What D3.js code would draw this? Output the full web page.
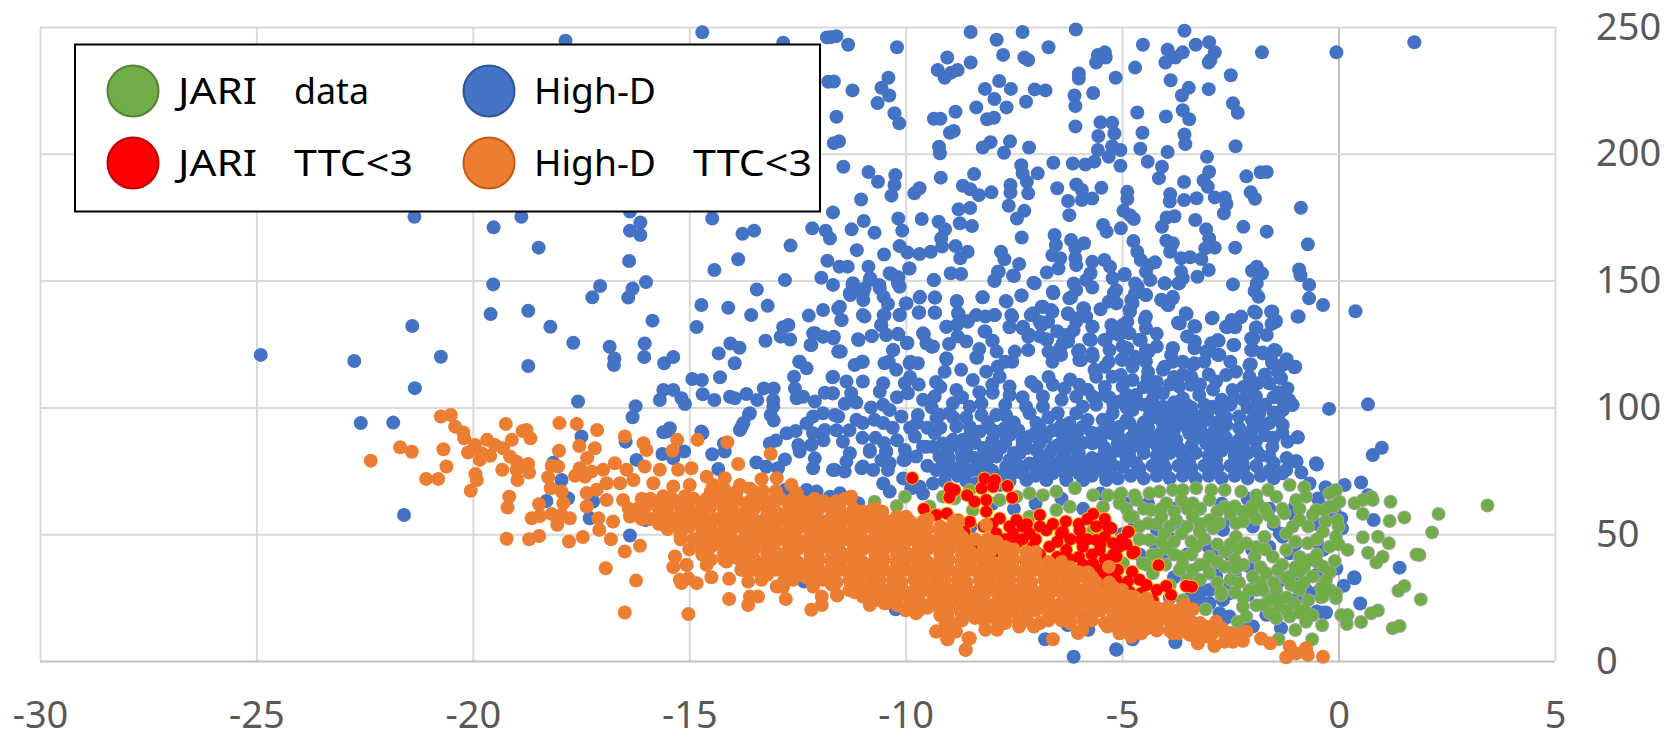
<!DOCTYPE html>
<html>
<head>
<meta charset="utf-8">
<script src="https://cdn.jsdelivr.net/npm/d3@7"></script>
<style>
  body { margin: 0; background: #fff; }
  text { font-family: "Noto Sans", sans-serif; }
</style>
</head>
<body>
<svg class="svgScatter"></svg>
<script>
// Tick labels of both axes.
var xTicks = [-30, -25, -20, -15, -10, -5, 0, 5];
var yTicks = [0, 50, 100, 150, 200, 250];

// Legend labels, in reading order. Each one is a name and an optional second word.
var legendNames = ["JARI", "High-D", "JARI", "High-D"];
var legendSuffix = ["data", "", "TTC<3", "TTC<3"];

// High-D points. Upper part of the cloud.
var highDTop = [
[-8.5,248],[-7.9,245],[-7.3,248],[-6.07,249],[-3.56,248.5],[1.75,244],[-0.05,240],[-1.77,240],[-2.99,244],[-3.3,243],[-2.86,240],[-3.6,240],[-3.95,241],[-3.77,238],[-4,236],[-3,236],[-2.96,237],[-4.52,243],[-5.4,240],[-5.56,239],[-5.38,238],[-5.6,236],[-4.7,234],[-5.15,230],[-2.49,231],[-3.88,229],[-3.46,226],[-3,225.5],[-3.62,223],[-6,231.7],[-6,229.7],[-6.7,242],[-7.75,239],[-7.26,238],[-7.17,237],[-9.04,238],[-8.5,236],[-8.8,233],[-8.95,232],[-9.1,230],[-9.26,233],[-10.2,242],[-11.33,243],[-11.6,246.4],[-11.73,246],
[-10.4,230],[-10.56,226],[-10.38,223],[-10.65,220],[-11.23,225],[-11.66,228.5],[-11.6,214.6],[-10.26,216],[-10.15,212],[-9.35,213.8],[-9.2,213.8],[-8.85,216.6],[-8.37,218.3],[-8.17,225.6],[-7.84,228.7],[-7.57,225.6],[-7.95,221.6],[-7.67,218.3],[-7.22,220.5],[-7.02,225.4],[-6.77,225],[-6.1,223],[-6.08,218.8],[-5.67,224],[-8.12,213.6],[-7.96,214.2],[-6.08,210.8],[-5.5,212.4],[-5.23,212.2],[-5.55,207],[-5.18,208],[-4.65,216.3],[-3.99,214.7],[-3.6,217.2],[-3.45,213.6],[-2.44,219.9],[-2.33,216.2],[-4.53,208.3],[-3.56,207.6],[-3.54,203.8],[-2.38,203],
[-8.89,209],[-8.98,208.3],[-11.54,204.9],[-11.66,204.2],[-9.23,202.8],[-9.21,200.2],[-8.22,202.5],[-8.04,204.6],[-7.59,204.9],[-7.73,200.4],[-7.15,202.5],[-5.56,201.5],[-5.23,203],[-5.04,201.5],[-5.31,198.8],[-4.58,202],[-3.95,200.7],[-3.04,198.8],[-4.41,196.9],[-4.08,194.9],[-4.15,190.4],[-2.99,192.9],[-1.8,192.7],[-1.66,192.8],[-2.13,191.1],[-3.12,189.5],[-3.02,187],[-3.57,188.9],[-2.03,184.8],[-1.93,182.3],[-2.86,182.8],[-2.63,182.8],[-2.59,180.2],[-3.28,182.5],[-3.57,181.8],[-3.89,184.1],[-3.9,181.2],[-2.65,176.5],[-0.87,178.7],[-3.79,175.4],[-3.97,174.9],[-3.31,173.9],[-4.08,171.2],[-2.2,171.2],[-1.66,169.3],[-3.06,170.2],[-2.99,166.6],[-0.71,164.3],[-2.39,163],[-2.86,163],[-3.08,162.7],[-3.98,165.7],[-3.83,164.7],[-3.89,161.4],[-3.43,159.2],[-3.17,158.5],[-3.64,158.8],[-3,154.2],[-2,153.9],[-1.89,155.5],[-1.77,152.8],[-0.91,154.4],[-0.88,152.1],[-0.68,148.3],[-2.44,148.5],[-3.26,151.5],[-1.89,148.9],[-1.94,145.9],[-1.85,143.6],[-0.68,143],[-0.36,140.4],[0.39,137.9],[-1.91,137.3],[-1.56,137.7],[-1.45,134.2],[-0.92,135.8],[-1.55,132.9],[-2.26,135.5],[-2.47,134.5],[-2.57,131.6],[-2.39,131.6],[-2.91,135.4],[-3.51,136.8],[-3.67,133.1],[-3.31,131.8],[-1.9,131.6],[-1.66,128.5],[-1.97,127.2],[-3.32,125.9],[-2.77,126.3],[-2.94,125.3],[-2.41,124.6],[-3.83,123.3],[-3.33,123.3],[-3.02,122],[-2.75,120.7],[-1.97,122.6],[-1.75,121.6],[-1.45,122.4],[-1.54,118],[-1.29,116.7],[-1,116],[-2.03,117],
[-11.44,194.9],[-10.86,192.8],[-10.24,191.6],[-10.26,187.7],[-10.33,183.5],[-10.64,189],[-11.03,182],[-9.8,184.4],[-9.68,186.4],[-9.19,190.6],[-8.42,192],[-8.68,187.4],[-8.51,186],[-8.31,183.7],[-8.02,184.8],[-7.58,187.7],[-7.58,184.7],[-7.33,195.5],[-7.3,192.3],[-7.2,189],[-6.95,192.3],[-7.17,184.4],[-6.59,196.5],[-6.14,196.2],[-5.85,195.8],[-5.64,196.9],[-5.04,195.3],[-6.5,186.4],[-6.06,187.9],[-5.93,185.7],[-5.48,186.6],[-6.25,181.4],[-5.93,181.8],[-5.69,182.4],[-4.88,185],[-4.88,182.2],[-7.62,179.5],[-8.78,178.1],[-8.51,178.6],[-7.26,177.5],[-7.43,174.5],[-6.22,175.8],[-4.97,177.5],[-4.82,175.8],[-4.73,174.3],[-5.03,170.6],[-5.44,171.9],[-5.36,169.3],[-10.17,174.5],[-9.63,174.3],[-9.24,173.2],[-10.97,173.5],[-11.68,176.9],[-8.75,172.6],[-8.47,171.5],[-10.08,169.7],[-11.25,170.2],[-10.72,168.9],[-9.09,170.2],[-9.18,166.6],[-9.16,163.4],[-7.32,167],[-6.56,168],[-6.53,164],[-6.18,166],[-6.08,162.7],[-5.88,164.7],[-4.74,165.6],[-4.65,161.4],[-8.85,163.6],[-8.57,161.4],[-8.74,158.8],[-10.14,163.6],[-9.96,161.1],[-9.68,160.5],[-9.42,161.4],[-11.13,162],[-10.5,160.3],[-7.8,161.4],[-7.72,158.4],[-7.38,156.5],[-6.61,160],[-6.43,158.8],[-6.47,154.8],[-6.74,153.2],[-6.08,158.8],[-6.06,156.1],[-5.69,157.4],[-5.41,158.1],[-5.28,155.5],[-4.57,158.1],[-4.39,156.1],[-4.24,157.2],[-4.45,153.5],[-4.35,150.2],[-11.53,155.5],[-11.34,155.5],[-10.86,155.5],[-9.92,154.8],[-10.33,152.6],[-10.17,151.3],[-8.96,152.9],[-8.72,152.6],[-9.35,150.2],[-7.85,153.5],[-7.95,149.8],[-7.5,151.8],[-7.02,148.9],[-5.73,152.9],[-5.83,150.2],[-6.12,148.9],[-5.69,147.3],[-5.22,150.9],[-4.94,152.6],[-4.7,148.9],[-3.64,153.5],[-3.7,148.9],[-4.01,148.9],
[-10.82,150.9],[-10.61,148.3],[-11.23,148.3],[-11.68,148.3],[-11.28,144.3],[-10.95,146.9],[-10.51,143.6],[-10.14,147.6],[-10.98,142.3],[-10.95,135.8],[-10.41,140.8],[-9.98,141],[-9.67,143.6],[-9.32,143.3],[-8.82,141.7],[-8.22,143.4],[-7.67,141.7],[-7.32,144.1],[-6.59,145],[-6.18,143.3],[-6.06,146.3],[-5.19,145],[-5.31,141.7],[-4.7,145],[-4.45,144.3],[-3.83,143.6],[-4.08,142.3],[-3.93,140.4],[-4.76,141],[-4.82,137.7],[-5.5,138.7],[-5.13,141],[-5.88,139],[-5.83,135.8],[-6.25,136.8],[-6.86,139.7],[-6.61,137.7],[-7.11,136.4],[-6.86,132.5],[-7.54,135.8],[-7.6,131.6],[-8.16,135.8],[-7.94,136.4],[-8.78,136.8],[-8.57,133.8],[-8.82,132.5],[-9.06,131.8],[-9.32,137.3],[-9.7,137.3],[-10.14,136.4],[-11.56,139],[-11.48,134.4],[-10.51,136.4],[-10.57,132.5],[-11.66,127.9],[-11.09,126.6],[-10.78,128.1],[-10.45,128.5],[-10.17,128.8],[-9.96,125.5],[-9.58,128.8],[-9.52,125.2],[-9.4,123.9],[-8.16,129.9],[-8,126.3],[-7.3,131.2],[-7.17,127.9],[-6.73,126.8],[-6.06,133.8],[-5.69,131.8],[-5.25,132.5],[-4.88,133.8],[-4.45,135.8],[-4.45,131.2],[-6.3,128.5],[-6.12,130.5],[-5.72,126.6],[-5.38,126.6],[-5.07,128.5],[-4.57,126.6],[-6.43,123.3],[-5.99,122.6],[-5.69,121.3],[-4.88,123.3],[-4.39,122],[-11.5,122],[-10.29,122.6],[-7.48,122],[-7.17,122.6],[-8.35,119.6],[-9.06,119],[-11.01,118],[-10.39,118],[-9.89,118],[-7.54,118],[-6.61,118],[-5.99,118.7],[-5.31,118],[-5,119],[-4.45,118],[-3.83,118],[-3.33,117.4]
];

// High-D points, left side of the cloud.
var highDLeft = [
[-17.86,244.6],[-14.7,247.9],[-12.83,243.8],[-11.82,245.9],[-11.79,228.4],[-21.35,175.2],[-18.88,175.2],[-19.52,171],[-18.48,163],[-16.37,177.2],[-16.13,172.9],[-16.37,169.7],[-16.13,168],[-14.47,174.5],[-13.77,168.5],[-13.5,169.7],[-12.16,170.6],[-11.85,169.7],[-11.75,166.6],[-12.66,163.8],[-16.39,157.7],[-13.87,158.4],[-14.42,154.2],[-11.81,157.8],[-19.53,148.5],[-16,149.4],[-17.06,147.9],[-16.31,146.9],[-16.41,143.3],[-17.24,143.4],[-12.79,150.2],[-11.95,151.1],[-13.44,146.5],[-14.72,140.4],[-14.1,139.3],[-13.19,140.1],[-13.57,136.4],[-12.24,136.2],[-11.91,138.4],[-19.59,136.8],[-18.72,138.1],[-18.21,131.8],[-21.4,132.1],[-15.85,134.2],[-14.83,131.7],[-12.71,132.5],[-12.83,131.6],[-17.68,125.5],[-16.84,123.9],[-16.03,125.2],[-14.05,125.2],[-13.84,123.5],[-13.24,126.3],[-12.89,127.9],[-12.67,126.8],[-12.09,129.2],[-11.91,127.9],[-12.18,124.6],[-24.9,120.7],[-22.74,118.3],[-20.74,120],[-16.73,119.3],[-16.04,119.9],[-15.37,119.9],[-15.58,117.4],[-14.32,121.3],[-13.95,117.4],[-18.72,116.3],[-12.46,118],[-16.74,116.7],
[-17.57,102.3],[-16.24,100.5],[-16.31,96.1],[-14.93,111.2],[-14.71,110.8],[-14.29,111.9],[-15.6,106.9],[-15.37,106.9],[-15.68,102.9],[-15.18,103.6],[-15.1,101.3],[-14.69,105.2],[-14.42,102.9],[-14.06,104.2],[-13.95,103.6],[-13.68,105.3],[-13.43,102.9],[-13.28,107.5],[-13.05,107.5],[-13.06,102.9],[-13.06,100.3],[-13.12,97],[-13.05,94.8],[-13.62,97.4],[-13.79,92.4],[-12.58,112.1],[-12.56,107.5],[-12.52,103.6],[-12.37,104.2],[-12.45,118],[-12.29,115.4],[-12.1,102.3],[-11.87,105.8],[-11.69,105.5],[-11.69,111.9],[-12.14,129.2],[-11.91,127.9],[-11.67,127.2],[-12.2,124.6],[-11.56,122],
[-15.45,91.8],[-15.6,90.2],[-14.7,89.8],[-17.49,88.5],[-16.47,86.5],[-15.62,81.6],[-15.37,79.9],[-15.12,82.6],[-14.47,81.5],[-14.18,82.6],[-14.2,85.8],[-16.22,79.3],[-17.95,71.4],[-14.33,75.7],[-13.45,78.3],[-13.22,76.6],[-12.95,76],[-12.79,79.5],[-11.68,75.3],[-12.14,76],[-12.1,79.9],[-12.48,85.2],[-12.45,82.6],[-12.18,85.2],[-13.14,85.8],[-13,86.9],[-12.75,89.8],[-12.54,90.7],[-12.29,93.7],[-12.14,96.4],[-11.91,97.7],[-11.64,97],[-11.87,91.1],[-12.14,89.8],[-12.29,67.4],[-12.06,66.8],[-11.75,64.8],[-12.79,67.4],
[-22.59,93.8],[-21.84,94],[-21.59,57.6],[-21.34,107.6],[-15.52,90.5],[-14.72,90.5],[-18.14,78.2],[-18.3,63.1],[-17.8,64.2],[-17.22,62.9],[-17.3,56.3],[-16.01,55.6],[-16.37,49.5],[-12.35,31.3],[-13.83,91.1],[-13.6,97.7],[-13.75,93.8],[-12.47,84.6]
];

// High-D points, middle of the cloud.
var highDMiddle = [
[-4.95,152.2],[-5.14,146.3],[-4.64,147.6],[-4.79,142.4],[-4.45,144.3],[-4.1,142.4],[-3.83,143],[-3.95,140.4],[-3.6,150.9],[-3.68,149],[-4.02,149],[-4.48,134.5],[-4.83,138.4],[-4.99,132.5],[-4.83,129.2],[-5.22,129.2],[-5.41,126.6],[-4.6,126.6],[-4.99,124],[-5.29,122.6],[-5,118.7],[-4.45,122.6],[-4.49,118.7],[-4.76,116],[-3.83,123.3],[-3.87,120.7],[-3.6,118],[-3.37,116.7],[-4.02,116],[-3.33,126],[-3.71,133.4],[-3.33,132.1],[-3.53,137.1],[-2.93,135.1],[-2.6,131.8],[-2.41,133.8],[-2.25,135.8],[-3.06,122],[-2.79,120.7],[-2.79,126.6],[-2.43,124.6],[-1.95,137.8],[-1.53,137.8],[-1.45,133.8],[-1.91,131.2],[-2.02,127.2],[-2.02,122.6],[-1.75,121.3],[-1.49,122.6],[-1.53,117.4],[-1.02,115.8],[-0.95,135.8],
[-6.22,143],[-5.9,139.1],[-6.25,137.1],[-6.06,135.1],[-5.68,131.8],[-5.76,126.9],[-6.76,126.9],[-6.22,128.6],[-6.37,125.3],[-6.25,126],[-6.41,120.7],[-6.02,122],[-5.95,118.7],[-5.68,120],[-5.64,114.8],[-7.06,137.1],[-6.83,139.7],[-6.64,138.4],[-6.91,133.8],[-6.71,133.8],[-7.29,131.8],[-7.14,128.6],[-7.6,131.8],[-7.56,136.4],[-8.18,129.9],[-7.99,126.3],[-8.37,136.4],[-7.95,136.4],[-7.33,144.1],[-7.69,142],[-8.23,143.4],[-6.6,145.6],[-7.05,149.2],[-7.95,150.2],[-7.87,153.5],[-7.52,152],[-9.06,131.8],[-8.79,137.1],[-8.56,134.1],[-9.33,143.3],[-9.33,137.4],[-9.68,143.3],[-9.69,137.5],[-10,141],[-9.35,150.2],[-8.82,142],[-9.6,129.2],[-9.37,124],[-9.97,125.3],[-10.18,129],[-10.79,128.2],[-11.1,126.9],[-11.52,122],[-11.68,127.6],[-10.29,122.6],[-10.49,117.4],[-10.22,114.8],[-9.91,117.4],[-9.72,117.4],[-11.18,116.7],[-10.99,118],[-8.37,119.7],[-9.06,119.4],[-9.1,114.1],[-8.72,114.8],[-10.6,147],[-10.83,150.2],[-10.99,145],[-10.99,136.4],[-11.49,134.5],[-10.49,136.4],[-10.56,132.5],[-10.14,136.4],[-10.45,128.6],[-11.52,139.7],[-11.29,145],[-11.22,149],[-10.18,149],[-10.37,152.9],[-9.91,154.8],
[-11.68,112.1],[-11.37,110.2],[-10.99,110.2],[-10.52,109.5],[-10.02,109.5],[-11.68,105.6],[-11.26,105.6],[-10.6,106.2],[-9.95,105.6],[-9.33,104.3],[-11.41,101.4],[-11.14,101.9],[-10.52,101],[-10.37,99],[-10.1,96.4],[-11.56,96.4],[-11.14,95.1],[-10.99,93.8],[-10.72,95.1],[-10.52,93.8],[-9.72,97],[-9.74,93.8],[-9.29,95.7],[-9.22,97],[-8.91,101.6],[-8.99,97.7],[-8.52,100.3],[-8.25,101.6],[-8.25,97],[-8.83,106.9],[-8.45,110.8],[-8.14,114.1],[-7.87,116.1],[-7.83,112.1],[-7.6,108.2],[-7.99,105.8],[-7.6,104.9],[-7.22,100.3],[-6.98,108.2],[-6.83,104.3],[-6.6,108.9],[-6.33,107.5],[-6.83,100.3],[-7.14,97.7],[-7.91,97],[-7.68,96.8],[-6.49,97.7],[-6.06,104.3],[-5.99,108.9],[-5.68,104.3],[-5.91,100.3],[-5.6,101],[-6.06,97.7],[-5.6,112.1],[-5.22,112.1],[-5.03,112.8],[-4.76,110.8],[-4.41,111.5],[-4.06,114.8],[-3.68,108.2],[-3.41,108.9],[-4.99,108.2],[-4.68,104.9],[-5.06,102.3],[-4.06,105.6],[-3.6,103.6],[-3.22,104.9],[-2.91,100.3],[-2.83,110.2],[-2.6,112.8],[-2.37,114.1],[-2.45,106.9],[-2.41,103.6],[-2.06,116.7],[-2.06,112.1],[-1.87,109.5],[-1.6,109.5],[-1.91,104.3],[-1.33,111.5],[-1.18,107.5],[-1.14,102.9],[-1.06,101],[-1.29,99],[-0.22,99.4],
[-4.76,99],[-4.83,93.8],[-5.06,92.4],[-5.22,97.7],[-5.45,95.1],[-5.25,89.8],[-4.37,96.4],[-4.06,100.3],[-3.75,99],[-3.45,97.7],[-4.06,93.8],[-3.68,93.8],[-3.22,96.4],[-2.83,93.8],[-2.3,96.4],[-1.83,97.7],[-1.6,93.8],[-1.29,93.1],[-0.95,88.2],[-1.18,86.5],[-1.53,84.5],[-1.91,86.5],[-2.3,87.2],[-2.68,90.5],[-3.06,85.8],[-3.45,89.8],[-3.75,87.2],[-4.14,84.5],[-4.56,88.5],[-4.95,85.8],[-4.83,80.6],[-5.45,80.6],[-5.25,81.9],[-5.68,85.8],[-5.91,92.4],[-6.22,93.8],[-6.52,91.1],[-6.98,93.8],[-7.14,88.5],[-6.76,88.5],[-6.37,87.2],[-7.83,90.5],[-7.6,89.1],[-7.91,84.5],[-8.14,81.9],[-6.98,83.2],[-6.68,81.9],[-6.37,80.6],[-7.37,81.9],[-8.52,92.4],[-8.83,92.4],[-8.68,87.2],[-8.29,90.5],[-8.91,87.2],[-8.6,83.2],[-9.33,89.8],[-9.79,88.5],[-9.37,84.5],[-9.6,84.5],[-10.02,83.2],[-9.76,80.6],[-10.02,79.3],[-10.83,83.2],[-10.45,82.6],[-11.29,81.9],[-11.45,86.5],[-10.37,78],[-10.99,76.7],[-9.14,78],[-8.68,78],[-8.14,78],[-7.6,79.3],[-6.98,78],[-6.37,76.7],[-5.83,78],[-5.29,79.3],[-4.68,78],[-4.06,78],[-3.45,78],[-2.83,79.3],[-2.22,78],[-1.6,80.6],[-0.98,78.6],[-0.52,78],
[-11.37,78.6],[-11.64,75.3],[-11.41,74.7],[-11.02,76],[-10.83,82.5],[-10.45,82.5],[-10.56,79.2],[-10.75,75.3],[-10.41,75.3],[-10.52,70],[-10.37,66.8],[-10.05,79.2],[-10.06,72],[-9.68,68.7],[-9.87,68.1],[-11.52,66.1],[-11.1,62.2],[-9.29,75.3],[-9.06,74.7],[-9.37,70],[-9.22,80.6],[-9.52,84.5],[-9.14,85.8],[-8.68,79.2],[-8.45,75.3],[-8.21,77.9],[-7.91,80.6],[-7.68,76.6],[-7.44,74.6],[-7.14,77.9],[-6.83,75.3],[-6.52,77.9],[-6.21,76.6],[-5.91,75.3],[-5.6,76.6],[-5.29,75.3],[-4.98,76.6],[-8.37,70],[-7.83,69.4],[-7.21,71.4],[-6.75,71.4],[-6.29,71.4],[-5.9,71.4],[-5.37,71.4]
];

// High-D points, low and right side, most of them behind the JARI cloud.
var highDRight = [
[-0.94,88.2],[-0.98,78.9],[-0.5,77.5],[-1.21,75.3],[-0.86,74.3],[-1.29,99.2],[-1.09,100.9],[0.68,101.2],[1,84.1],[0.79,81.2],[0.52,70.4],[0.14,69.4],[-0.3,68.5],[0.81,55.6],[0.68,65.4],[0.06,56.3],[0.08,52.3],[1.41,36.8],[0.37,32.6],[0.12,29.7],[-0.05,36.5],[-0.67,70],[-0.48,64.1],[0.5,22.7],[-0.29,19.1],[-0.5,19.5],[-0.71,25.4],[-1.33,12.9],[-1.67,18.2],[-3.77,7.4],[-5.14,4.6],[-4.75,9],[-4.14,16.2],[-2.67,24],[-2.98,22.8],[-2.52,17.5],[-2.67,16.2],[-3.21,24],[-2.98,28],[-3.37,22.8],[-2.75,18.8],[-3.13,28],[-2.83,33.3],[-3.29,30],[-2.52,26.7],[-2.21,14.9],[-1.98,13.6],[-1.36,50.3],[-1.29,49],[-1.98,53],[-2.67,51.7],[-4.25,46.4],[-3.94,49],[-2.83,41.1],[-2.06,37.2],[-0.75,28],[-0.36,43.8],[-1.13,42.5],
[-11.68,32.6],[-10.68,25.4],[-10.22,20.8],[-6.12,1.7],[-5.13,4.4],[-6.78,8.6],[-4.76,8.6],[-6.26,14.2],[-5.78,12.3],[-10.23,20.4],[0.36,33],[-0.36,19.1],[-0.51,77.6],[-0.97,78.6]
];

// The thick part of the High-D cloud, too dense to read single points.
var highDDense = [
[-9.1,71],[-8.8,73],[-8.6,71],[-8.2,73],[-7.9,73],[-7.6,71],[-7.3,74],[-7,73],[-6.6,74],[-6.3,73],[-6,74],[-5.7,73],[-5.4,74],[-5.1,72],[-4.8,73],[-4.5,72],[-4.2,73],[-3.9,72],[-3.6,73],[-3.3,72],[-3,73],[-2.7,72],[-2.4,73],[-2.1,72],[-1.8,73],[-1.5,72],
[-9,80],[-8.7,82],[-8.4,80],[-8.1,82],[-7.8,84],[-7.5,82],[-7.2,84],[-6.9,80],[-6.6,84],[-6.3,83],[-6,82],[-5.7,80],[-5.4,84],[-5.1,83],[-4.8,84],[-4.5,82],[-4.2,81],[-3.9,82],[-3.6,81],[-3.3,82],[-3,81],[-2.7,83],[-2.4,81],[-2.1,82],[-1.8,81],[-1.5,78],[-1.2,80],
[-4.6,85],[-4.3,88],[-4,88],[-3.7,84],[-3.4,85],[-3.1,89],[-2.8,86],[-2.5,85],[-2.2,84],[-1.9,83],[-1.5,88],[-1.3,90],
[-5.1,89],[-4.7,91],[-4.4,92],[-4.1,90],[-3.8,91],[-3.5,92],[-3.2,92],[-2.9,90],[-2.6,93],[-2.3,92],[-2,91],[-1.8,93],
[-5.2,101],[-4.5,101],[-4.3,103],[-3.9,97],[-3.5,101],[-3.1,101],[-2.7,98],[-2.5,101],[-2.1,100],[-1.7,101],[-1.5,98],[-1.3,103],
[-8.9,76],[-8.2,84],[-7.3,87],[-7,90],[-6.4,93],[-6.1,88],[-5.8,95],[-5.5,90],[-7.5,94],[-8.1,94],[-8.6,96],[-6.7,96],
[-4.6,25],[-3.9,25],[-3.4,26],[-2.5,30],[-2.1,26],[-1.6,25],[-1,24],[-0.5,27],[-3.8,33],[-3.4,34],[-2.9,37],[-2.4,34],[-1.9,31],[-1.4,31],[-1,32],[-0.5,34],[-4.6,42],[-4,41],[-3.5,42],[-3,45],[-2.5,42],[-2,44],[-1.6,45],[-1,46],[-0.5,47],[-4.7,54],[-4.2,52],[-3.6,53],[-3.1,54],[-2.5,56],[-2,58],[-1.5,54],[-1,57],[-0.5,54],[-0.1,59],[-4.9,62],[-4.4,62],[-3.8,60],[-3.2,60],[-2.7,62],[-2.1,64],[-1.6,60],[-1,61],[-0.4,61],[-10,54],[-9.6,66],[-8.5,53],[-7.5,60],[-7,62],[-6.4,64],[-5.9,60],[-5.5,66],[-5,50],[-8,62],
[-9.5,77],[-9,84],[-8.6,75],[-8.3,77],[-8,75],[-7.7,74],[-7.4,77],[-7,76],[-6.7,79],[-6.4,78],[-6.1,79],[-5.8,78],[-5.5,79],[-5.2,77],[-4.9,80],[-4.6,76],[-4.3,77],[-4,76],[-3.7,77],[-3.4,76],[-3.1,77],[-2.8,76],[-2.5,77],[-2.2,76],[-1.9,77],[-1.6,75],[-1.3,74],
[-8.8,85],[-8.4,86],[-8,87],[-7.7,86],[-7.3,85],[-6.9,86],[-6.5,85],[-6.2,85],[-5.9,86],[-5.5,87],[-5.1,86],[-4.8,88],[-4.5,85],[-4.2,85],[-3.9,85],[-3.3,88],[-2.9,83],[-2.6,88],[-2.1,88],[-1.7,89],
[-9.2,92],[-8.9,96],[-8.5,90],[-8,91],[-7.7,92],[-7.4,91],[-6.9,92],[-6.6,91],[-6.3,90],[-6,91],[-5.7,90],[-5.3,93],[-4.9,95],[-4.5,94],[-4.2,96],[-3.9,94],[-3.6,96],[-3.3,95],[-3,95],[-2.6,96],[-2,95],[-1.4,96],
[-4.7,102],[-4.3,99],[-3.8,102],[-3.4,100],[-3,99],[-2.7,103],[-2.2,103],[-1.9,100],[-1.5,104],[-5.4,105],[-4.9,105],[-4.3,107],[-3.9,109],[-3.2,109],[-2.9,107],[-2,107],[-1.4,106],
[-9.6,103],[-9.2,108],[-8.7,104],[-8.3,106],[-8,109],[-7.7,101],[-7.3,104],[-7.1,110],[-6.7,112],[-6.4,103],[-6.2,111],[-5.8,107],[-5.4,108],[-5.3,104],[-4.9,100],[-4.5,108],[-4.2,110],[-3.8,112],[-3.4,112],[-3,113],[-3.1,118],[-2.5,118],[-2.2,108],[-1.7,113],[-1.4,114],[-1.2,119],[-4.7,120],[-4.2,124],[-4.2,129],[-3.5,128],[-3.6,113],[-4.4,114],[-5.4,116],[-6.7,122],[-6.5,130],[-6.9,128],[-7.7,118],[-7.9,122],[-8.3,123],[-8.6,126],[-9,125],[-8.8,128],[-9.3,110],[-9.9,112],[-9.7,109],[-10.2,104],[-10.8,100],[-10.3,92],[-10.7,88],[-10.2,87],[-10.5,86],[-11,88],[-11.6,91],[-11.3,91],[-11.9,87],[-9.9,92],[-9.5,92],[-9.4,100]
];

// JARI data points.
var jariAll = [
[-5.06,65.4],[-4.71,65.4],[-4.37,66.1],[-4.14,66.8],[-3.83,67.4],[-3.6,67.4],[-3.29,68.1],[-2.94,67.4],[-2.63,67.4],[-2.25,66.8],[-1.9,65.4],[-1.63,67.4],[-1.13,69.4],[-0.79,68.5],[-0.06,67.4],[-0.21,66.1],
[-5.06,62.2],[-4.67,63.5],[-4.33,59.5],[-3.98,62.2],[-3.63,63.5],[-3.37,62.2],[-2.98,63.5],[-2.63,60.8],[-2.21,58.9],[-1.87,62.2],[-1.44,64.8],[-0.98,63.5],[-0.75,64.8],[-0.52,59.5],[-0.21,60.8],[0.02,62.8],[0.37,62.2],[0.56,63.5],[0.79,63.5],[1.2,62.8],[0.56,58],[1.18,55.2],[1.52,56.6],[-0.03,55.6],
[-4.75,56.9],[-4.4,54.3],[-4.09,56.9],[-3.75,55.6],[-3.37,56.9],[-2.98,55.6],[-2.75,54.3],[-2.37,54.3],[-1.98,58.2],[-1.63,57.6],[-1.25,58.2],[-0.9,55.6],[-0.6,57.6],[-0.33,59.5],
[-4.37,47.7],[-4.02,50.3],[-3.63,50.3],[-3.21,51],[-2.9,52.3],[-2.37,49],[-2.13,46.4],[-1.71,49],[-1.21,50.3],[-1.06,53],[-0.36,51],[-0.06,49],[-0.71,46.4],[0.21,43.8],[-0.21,45.1],[-0.09,39.4],
[-3.98,44.4],[-3.63,41.1],[-3.29,45.1],[-2.98,41.1],[-2.63,43.1],[-2.33,44.4],[-1.94,41.1],[-1.52,41.1],[-1.21,43.8],[-0.67,39.8],[-0.36,37.2],
[-4.44,37.9],[-3.67,35.9],[-3.37,35.9],[-2.98,34.6],[-2.63,37.2],[-2.37,36.5],[-1.67,34.6],[-1.13,33.3],[-0.6,33.3],[-0.29,31.9],
[-2.71,27.3],[-2.06,28],[-1.75,28],[-1.44,25.4],[-0.9,28],[-0.36,25.4],[-0.06,26.7],
[0.56,48.8],[0.91,49],[1.16,46.4],[0.68,42.7],[1.02,41.1],[0.87,38.8],[2.16,50.7],[1.87,41.8],[1.52,29.6],[1.38,27.7],[1.9,24.3],[1.41,13.8],[1.25,12.9],[0.91,19.9],[0.75,18.8],[0.52,15.4],[0.21,18.1],[0.06,18.1],[0.19,14.6],[-0.06,24.7],[-0.4,25.1],[-0.38,14.1],[-0.61,8.6],[-1.39,8.6],[-1,12.2],[-0.75,15.5],[-0.79,20.1],[-1.02,22.7],[-1.37,21.4],[-1.44,16.8],[-1.13,17.5],[-1.75,22.1],[-2.21,21.4],[-2.13,17.5],[-2.33,15.5],[-2.71,26],[-3.07,20.4],[-0.98,29.3],[-1.21,32.6],[-0.9,35.2],[-1.98,33.3],[-1.44,28],[-1.9,28],
[3.44,61.3],[2.31,58],[1.8,42],[0.76,64.7],
[-10.72,62.8],[-10.02,64.8],[-10.21,61.1],[-9.14,64.8],[-9.45,60.9],[-8.87,64.1],[-8.45,59.5],[-8.52,67.4],[-7.83,63.5],[-7.44,64.8],[-7.14,66.1],[-6.83,65.4],[-6.52,66.8],[-6.09,68.1],[-5.67,65.4],[-5.33,65.4],[-5.02,66.1],[-7.14,56.9],[-6.52,59.5],[-6.21,60.8],[-5.44,60.8],[-5.67,51.7],[-4.98,38.5],[-4.83,56.9],[-4.52,38.5],[-4.29,34.6],[-4.6,48],[-4.2,42],[-3.9,30],[-3.6,24]
];

// The thick part of the JARI cloud.
var jariDense = [
[-4.9,60],[-4.5,60],[-4.1,60],[-3.8,59],[-3.5,60],[-3.2,60],[-2.8,59],[-2.4,61],[-2,61],[-1.7,60],[-1.3,60],[-0.9,60],[-0.1,61],
[-4.6,53],[-4.2,54],[-3.9,53],[-3.5,53],[-3.2,54],[-2.5,58],[-2.2,55],[-1.9,56],[-1.5,55],[-0.7,53],[-0.3,55],[0,53],
[-4.1,47],[-3.8,47],[-3.4,47],[-3.1,48],[-2.8,46],[-2.5,46],[-1.9,45],[-1,47],[-0.5,48],[0,46],
[-4.3,42],[-3.8,42],[-3.4,42],[-3.1,38],[-2.4,40],[-2.2,38],[-1.7,44],[-1.3,38],[-0.9,41],[-0.5,42],
[-4,38],[-3.6,38],[-3.2,38],[-2.8,39],[-1.8,37],[-1.4,36],[-1,37],[-0.8,37],[-0.5,39],[-0.2,35],
[-3.5,32],[-3.2,32],[-2.8,31],[-2.5,32],[-2.3,31],[-1.8,31],[-1.5,31],[-1.1,30],[-0.8,31],[-0.4,29],
[-2.4,27],[-2.2,25],[-1.6,24],[-1.2,25],[-0.7,24],[-0.2,28],
[-1.9,22],[-1.6,19],[-1.2,20],[-0.9,19],[-0.6,18]
];

// JARI points with TTC below 3.
var jariTtc = [
[-9.85,72.2],[-8.98,68.1],[-8.87,67.4],[-8.99,64.5],[-8.58,65.4],[-8.41,62.8],[-8.14,63.5],[-8.18,72],[-7.94,71.4],[-8.25,68.1],[-7.98,68.7],[-7.65,69],[-7.54,64.4],[-9.58,59.9],[-9.29,57.6],[-9.05,58.2],[-8.79,55.6],[-8.52,54.9],[-8.64,51],[-8.14,58.9],[-7.83,56.2],[-7.44,55.6],[-6.9,57.6],[-5.67,58],[-5.33,53],[-4.86,51],
[-7.91,50.3],[-7.52,50.3],[-7.14,50.3],[-6.75,51.6],[-6.37,51],[-5.98,51.6],[-5.6,47.7],[-5.21,46.4],[-7.91,45.1],[-7.44,46.4],[-7.06,45.1],[-6.68,45.1],[-6.29,43.8],[-5.91,45.1],[-5.52,43.8],[-5.13,41.1],[-5.36,33.3],[-5.13,31.9],[-5.67,38.5],[-5.29,29.3],[-4.98,29.3],
[-5.25,52.3],[-4.85,51],[-5.06,45.1],[-4.71,43.1],[-5.29,39.8],[-5.21,31.9],[-4.16,37.8],[-4.77,35.2],[-4.87,31.3],[-5.06,29.3],[-4.44,30],[-4.29,24],[-3.98,29.6],[-3.87,26],[-3.52,29.6],[-3.39,29.3],[-4.56,26.7],[-4.83,27.3],[-6.41,50.4],[-7.2,54],[-6.9,53],[-6.5,47],[-5.8,48],[-5.6,53],[-5.4,49],[-5.2,42],[-5.5,36],[-5.1,36],[-4.76,42.5],[-5.7,42],[-6,41],[-5.4,40],[-7.7,48],[-7.3,48],[-7,48],[-8.2,53],[-8,54],
[-7.6,53],[-7.3,53],[-6.6,54],[-6.3,55],[-6,54],[-5.8,56],[-5.4,56],[-6.2,48],[-5.95,48],[-7.7,43],[-7.2,42],[-6.9,42],[-6.5,41],[-6.2,40],[-5.9,38],[-5.5,46],[-5,48],[-4.9,46],[-5.3,36],[-5.6,33],[-5.5,30],[-4.9,25],[-4.6,32],[-4.2,28],[-8.4,47],[-8.1,48],[-8.3,43],[-8,42]
];

// High-D points with TTC below 3, cloud edges.
var highDTtcEdge = [
[-22.36,79],[-21.68,84.3],[-21.41,82.5],[-20.68,83.5],[-20.61,76.7],[-21.08,71.8],[-20.8,71.8],[-20.74,96.4],[-20.51,97],[-20.41,92.4],[-20.22,90.1],[-20.2,87.8],[-19.94,73.7],[-19.91,71.4],[-20.05,67.1],[-20.11,82.2],[-19.95,85.2],[-19.84,79.3],[-19.8,81.9],[-19.6,80.9],[-19.67,87.2],[-19.49,85.2],[-19.3,83.9],[-19.1,87.2],[-19.14,80.6],[-18.99,78.6],[-19.24,93.5],[-18.85,90.7],[-18.76,91.1],[-18.67,87.8],[-19.32,75.4],[-18.99,75.4],[-18.97,71.4],[-18.72,77.7],[-18.7,74.3],[-19.16,64.8],[-19.2,60.5],[-19.22,48.2],[-18.7,48],[-18.47,49.3],[-18.47,61.8],[-18.64,56.3],[-18.45,57.2],[-18.18,76.9],[-18.03,76.7],[-18.26,72.5],[-18.2,68.1],[-17.95,66.8],[-17.91,62.2],[-18.18,58],[-17.95,57.6],[-17.76,56.3],[-18.05,53.7],[-17.78,47.1],[-17.46,48.9],[-18,93.8],[-17.6,93.5],[-17.13,91.1],[-17.54,84.8],[-17.18,83.9],[-18.01,82.9],[-17.36,80],[-17.64,73],[-17.53,76],[-17.41,72.7],[-17.26,74.7],[-16.99,75.4],[-17.37,66.2],[-17.37,60.9],[-17.1,56.3],[-17.08,51.7],[-16.81,48],[-16.76,55],[-16.49,43.2],[-16.14,45.4],[-16.93,36.6],[-16.23,31.7],[-16.49,19.1],[-15.02,18.5],
[-16.49,88.5],[-16.06,85.9],[-15.99,83.2],[-15.28,87.2],[-15.39,82.9],[-14.81,87.2],[-14.12,86.3],[-13.12,81.7],[-13.87,77.7],[-16.72,78],[-16.45,75.4],[-16.03,76.7],[-15.68,75.4],[-15.26,75.4],[-14.95,76],[-14.6,72.7],[-14.18,72.1],[-13.33,71.7],[-12.98,72.1],[-12.64,69.4],[-17.14,67.5],[-16.91,70.1],[-16.6,70.1],[-16.29,71.4],[-15.83,70.1],[-15.37,68.8],[-14.99,69.4],[-14.45,69.4],[-13.83,69.4],[-13.52,66.8],[-12.52,66.2],
[-16.91,63.5],[-16.53,63.5],[-16.37,57],[-15.33,41.2],[-15.37,37],[-15.06,37.9],[-14.6,37.9],[-14.14,39.2],[-13.83,39.9],[-13.22,38.6],[-12.91,37.3],[-12.52,38.6],[-12.06,37.3],
[-15.18,30.7],[-14.83,30.7],[-15.02,32.6],[-14.49,33],[-14.08,32.4],[-13.68,35.3],[-13.64,31.3],[-13.33,32],[-12.98,29.4],[-12.83,29.4],[-14.08,24.4],[-13.6,25.4],[-13.41,25.4],[-13.64,22.1],[-12.77,24.4],[-12.14,29.4],[-11.94,25.4],[-11.94,22.1],[-12.18,20.2],[-12.29,34.6],
[-15.07,37.9],[-15.22,32],[-12.91,29.4],[-12.64,32.6],[-11.91,32],[-11.59,26],[-11.18,27.4],[-10.99,25.4],[-10.83,22.5],[-10.47,22.8],[-9.77,19.5],[-9.08,14.9],[-9.29,11.6],[-8.87,12.3],[-9.04,8.6],[-8.52,9],[-8.62,4.4],
[-11.26,64.8],[-12.22,62.2],[-11.87,61.5],[-11.54,61.5],[-10.83,58.9],[-10.56,58.9],[-9.99,56.9],[-9.49,55.9],[-8.79,55],[-8.95,51.7],[-11.27,64.8],[-10.78,59.6],[-10.54,58.9],[-10,56.3],[-9.52,55.6],[-8.89,55],[-8.98,52.3],[-8.14,53.6],
[-11.58,25.8],[-11.17,27.1],[-10.83,22.1],[-10.49,22.8],[-9.76,18.8],[-9.3,11.6],[-9.03,13],[-9.03,8.6],[-8.84,11.6],[-8.55,9],[-8.61,4.4],[-8.16,12.3],[-7.89,12.3],[-7.38,13.6],[-7.04,13.6],[-6.6,8.6],[-5.92,12.3],[-6.02,11],[-5.34,13.6],[-4.85,12.3],[-4.56,13.6],[-5.31,37.2],
[-4.29,20.1],[-3.94,21.4],[-3.56,22.1],[-3.37,20.4],[-3.83,16.2],[-3.44,16.2],[-3.83,10.9],[-3.44,10.3],[-3.06,13.5],[-2.83,15.5],[-3.25,7],[-2.87,5.9],[-2.63,7.6],[-3.02,9.6],[-2.36,10.3],[-2.13,11.6],[-2.21,8],[-2.44,7.6],[-1.79,8.9],[-1.58,7],[-1.13,5.7],[-0.75,5],[-1.21,1.5],[-0.71,2.4],[-0.98,3],[-0.36,1.7],
[-5.06,26],[-4.79,25.4],[-4.44,24.7],[-5.02,20.8],[-4.44,18.8],[-4.83,14.9],[-5.14,16.2],[-4.56,10.9],[-4.79,9.6],[-5.06,10.9]
];

// High-D points with TTC below 3, the solid core of the band.
var highDTtcCore = [
[-14.5,67],[-14.2,68],[-13.9,67],[-13.6,68],[-13.3,67],[-13,67],
[-16.1,64],[-15.9,64],[-15.6,65],[-15.4,64],[-15.1,65],[-14.9,64],[-14.6,64],[-14.4,65],[-14.1,64],[-13.9,64],[-13.6,63],[-13.4,64],[-13.1,63],[-12.9,64],[-12.6,64],[-12.4,63],[-12.1,64],[-11.9,63],[-11.6,63],[-11.4,64],
[-16.4,60],[-16.2,60],[-16,61],[-15.7,60],[-15.5,60],[-15.2,61],[-15,60],[-14.7,60],[-14.5,61],[-14.2,60],[-14,60],[-13.7,59],[-13.5,60],[-13.2,60],[-13,59],[-12.7,60],[-12.5,60],[-12.2,59],[-12,60],[-11.7,60],[-11.5,59],[-11.2,60],[-11,59],[-10.7,60],
[-16.1,56],[-15.9,56],[-15.6,57],[-15.4,56],[-15.1,56],[-14.9,57],[-14.6,56],[-14.4,56],[-14.1,55],[-13.9,56],[-13.6,56],[-13.4,55],[-13.1,56],[-12.9,56],[-12.6,55],[-12.4,56],[-12.1,56],[-11.9,55],[-11.6,56],[-11.4,56],[-11.1,55],[-10.9,56],[-10.6,56],[-10.4,55],[-10.1,56],[-9.9,55],[-9.6,55],
[-15.5,52],[-15.2,52],[-15,53],[-14.7,52],[-14.5,52],[-14.2,51],[-14,52],[-13.7,52],[-13.5,51],[-13.2,52],[-13,52],[-12.7,51],[-12.5,52],[-12.2,52],[-12,51],[-11.7,52],[-11.5,52],[-11.2,51],[-11,52],[-10.7,52],[-10.5,51],[-10.2,52],[-10,52],[-9.7,51],[-9.5,52],[-9.2,52],[-9,51],[-8.8,51],
[-15.2,48],[-14.9,48],[-14.6,49],[-14.4,48],[-14.1,48],[-13.9,47],[-13.6,48],[-13.4,48],[-13.1,47],[-12.9,48],[-12.6,48],[-12.4,47],[-12.1,48],[-11.9,48],[-11.6,47],[-11.4,48],[-11.1,48],[-10.9,47],[-10.6,48],[-10.4,48],[-10.1,47],[-9.9,48],[-9.6,48],[-9.4,47],[-9.1,48],[-8.9,48],[-8.6,47],[-8.4,48],[-8.1,48],[-7.9,47],
[-15,44],[-14.7,44],[-14.5,45],[-14.2,44],[-14,44],[-13.7,43],[-13.5,44],[-13.2,44],[-13,43],[-12.7,44],[-12.5,44],[-12.2,43],[-12,44],[-11.7,44],[-11.5,43],[-11.2,44],[-11,44],[-10.7,43],[-10.5,44],[-10.2,44],[-10,43],[-9.7,44],[-9.5,44],[-9.2,43],[-9,44],[-8.7,44],[-8.5,43],[-8.2,44],[-8,44],[-7.7,43],[-7.5,44],[-7.2,43],[-7,43],
[-14.5,40],[-14.2,40],[-14,41],[-13.7,40],[-13.5,40],[-13.2,39],[-13,40],[-12.7,40],[-12.5,39],[-12.2,40],[-12,40],[-11.7,39],[-11.5,40],[-11.2,40],[-11,39],[-10.7,40],[-10.5,40],[-10.2,39],[-10,40],[-9.7,40],[-9.5,39],[-9.2,40],[-9,40],[-8.7,39],[-8.5,40],[-8.2,40],[-8,39],[-7.7,40],[-7.5,40],[-7.2,39],[-7,40],[-6.7,39],[-6.4,39],
[-13.8,36],[-13.5,36],[-13.3,37],[-13,36],[-12.8,36],[-12.5,35],[-12.3,36],[-12,36],[-11.8,35],[-11.5,36],[-11.3,36],[-11,35],[-10.8,36],[-10.5,36],[-10.3,35],[-10,36],[-9.8,36],[-9.5,35],[-9.3,36],[-9,36],[-8.8,35],[-8.5,36],[-8.3,36],[-8,35],[-7.8,36],[-7.5,36],[-7.3,35],[-7,36],[-6.8,36],[-6.5,35],[-6.3,36],[-6,35],[-5.8,35],
[-12.8,32],[-12.6,32],[-12.3,33],[-12.1,32],[-11.8,32],[-11.6,31],[-11.3,32],[-11.1,32],[-10.8,31],[-10.6,32],[-10.3,32],[-10.1,31],[-9.8,32],[-9.6,32],[-9.3,31],[-9.1,32],[-8.8,32],[-8.6,31],[-8.3,32],[-8.1,32],[-7.8,31],[-7.6,32],[-7.3,32],[-7.1,31],[-6.8,32],[-6.6,32],[-6.3,31],[-6.1,32],[-5.8,32],[-5.6,31],[-5.3,31],
[-11.3,28],[-11,28],[-10.8,29],[-10.5,28],[-10.3,28],[-10,27],[-9.8,28],[-9.5,28],[-9.3,27],[-9,28],[-8.8,28],[-8.5,27],[-8.3,28],[-8,28],[-7.8,27],[-7.5,28],[-7.3,28],[-7,27],[-6.8,28],[-6.5,28],[-6.3,27],[-6,28],[-5.8,28],[-5.5,27],[-5.3,28],[-5,28],
[-10.7,24],[-10.4,24],[-10.2,25],[-9.9,24],[-9.7,24],[-9.4,23],[-9.2,24],[-8.9,24],[-8.7,23],[-8.4,24],[-8.2,24],[-7.9,23],[-7.7,24],[-7.4,24],[-7.2,23],[-6.9,24],[-6.7,24],[-6.4,23],[-6.2,24],[-5.9,24],[-5.7,23],[-5.4,24],[-5.2,24],[-4.9,23],[-4.7,24],[-4.4,23],
[-10,20],[-9.7,20],[-9.5,21],[-9.2,20],[-9,20],[-8.7,19],[-8.5,20],[-8.2,20],[-8,19],[-7.7,20],[-7.5,20],[-7.2,19],[-7,20],[-6.7,20],[-6.5,19],[-6.2,20],[-6,20],[-5.7,19],[-5.5,20],[-5.2,20],[-5,19],[-4.7,20],[-4.5,19],[-4.2,20],[-4,19],[-3.7,20],[-3.5,19],
[-9,16],[-8.7,16],[-8.4,17],[-8.2,16],[-7.9,16],[-7.7,15],[-7.4,16],[-7.2,16],[-6.9,15],[-6.7,16],[-6.4,16],[-6.2,15],[-5.9,16],[-5.7,16],[-5.4,15],[-5.2,16],[-4.9,16],[-4.7,15],[-4.4,16],[-4.2,15],[-3.9,16],[-3.7,15],[-3.4,15],[-3.2,15],
[-5,12],[-4.7,12],[-4.4,13],[-4.2,12],[-3.9,12],[-3.7,11],[-3.4,12],[-3.2,12],[-2.9,11],[-2.7,12],[-2.5,11]
];

// Second layer of the core, closes the gaps left by the first one.
var highDTtcFill = [
[-15.7,62],[-15.2,62],[-14.7,62],[-14.2,62],[-13.7,62],[-13.2,61],[-12.7,62],[-12.2,62],[-11.7,62],
[-16.2,58],[-15.7,58],[-15.2,58],[-14.7,58],[-14.2,58],[-13.7,58],[-13.2,58],[-12.7,58],[-12.2,57],[-11.7,58],[-11.2,58],[-10.7,58],[-10.2,57],
[-15.7,54],[-15.2,54],[-14.7,54],[-14.2,54],[-13.7,54],[-13.2,54],[-12.7,54],[-12.2,54],[-11.7,54],[-11.2,54],[-10.7,54],[-10.2,54],[-9.7,53],[-9.2,53],
[-15.2,50],[-14.7,50],[-14.2,50],[-13.7,50],[-13.2,50],[-12.7,50],[-12.2,50],[-11.7,50],[-11.2,50],[-10.7,50],[-10.2,50],[-9.7,49],[-9.2,50],[-8.7,49],
[-14.7,46],[-14.2,46],[-13.7,46],[-13.2,46],[-12.7,46],[-12.2,46],[-11.7,46],[-11.2,46],[-10.7,46],[-10.2,46],[-9.7,46],[-9.2,46],[-8.7,46],[-8.2,46],[-7.7,45],
[-14.7,42],[-14.2,42],[-13.7,42],[-13.2,42],[-12.7,42],[-12.2,42],[-11.7,42],[-11.2,42],[-10.7,42],[-10.2,42],[-9.7,42],[-9.2,42],[-8.7,42],[-8.2,42],[-7.7,41],[-7.2,41],
[-13.7,38],[-13.2,38],[-12.7,38],[-12.2,38],[-11.7,38],[-11.2,38],[-10.7,38],[-10.2,38],[-9.7,38],[-9.2,38],[-8.7,38],[-8.2,38],[-7.7,38],[-7.2,38],[-6.7,37],[-6.2,37],
[-13.2,34],[-12.7,34],[-12.2,34],[-11.7,34],[-11.2,34],[-10.7,34],[-10.2,34],[-9.7,34],[-9.2,34],[-8.7,34],[-8.2,34],[-7.7,34],[-7.2,34],[-6.7,34],[-6.2,34],[-5.7,33],
[-11.7,30],[-11.2,30],[-10.7,30],[-10.2,30],[-9.7,30],[-9.2,30],[-8.7,30],[-8.2,30],[-7.7,30],[-7.2,30],[-6.7,30],[-6.2,30],[-5.7,30],[-5.2,29],
[-10.7,26],[-10.2,26],[-9.7,26],[-9.2,26],[-8.7,26],[-8.2,26],[-7.7,26],[-7.2,26],[-6.7,26],[-6.2,26],[-5.7,26],[-5.2,26],[-4.7,25],
[-10.2,22],[-9.7,22],[-9.2,22],[-8.7,22],[-8.2,22],[-7.7,22],[-7.2,22],[-6.7,22],[-6.2,22],[-5.7,22],[-5.2,22],[-4.7,22],[-4.2,21],
[-9.2,18],[-8.7,18],[-8.2,18],[-7.7,18],[-7.2,18],[-6.7,18],[-6.2,18],[-5.7,18],[-5.2,18],[-4.7,18],[-4.2,17],[-3.7,17],
[-5.2,14],[-4.7,14],[-4.2,14],[-3.7,13],[-3.2,13],[-2.7,13]
];

var width = 1670;
var height = 732;

// Plot area in pixels.
var plot = { left: 40, right: 1555, top: 27, bottom: 661 };
var dotRadius = 7;

var svg = d3.select(".svgScatter")
    .attr("width", width)
    .attr("height", height);

var x = d3.scaleLinear().domain([-30, 5]).range([plot.left, plot.right]);
var y = d3.scaleLinear().domain([0, 250]).range([plot.bottom, plot.top]);

// Gridlines first, they sit behind everything.
var xGrid = svg.append("g")
    .attr("transform", "translate(0," + plot.bottom + ")")
    .call(d3.axisBottom(x).tickValues(xTicks).tickSize(plot.top - plot.bottom).tickFormat(""));
xGrid.select(".domain").remove();
xGrid.selectAll("line")
    .attr("stroke", function (d) { return d === 0 ? "#bfbfbf" : "#d9d9d9"; })
    .attr("stroke-width", 2);

var yGrid = svg.append("g")
    .attr("transform", "translate(" + plot.left + ",0)")
    .call(d3.axisRight(y).tickValues(yTicks).tickSize(plot.right - plot.left).tickFormat(""));
yGrid.select(".domain").remove();
yGrid.selectAll("line")
    .attr("stroke", function (d) { return d === 0 ? "#bfbfbf" : "#d9d9d9"; })
    .attr("stroke-width", 2);

// Draws one series as a group of circles.
function drawDots(points, fill, r) {
    svg.append("g")
        .selectAll("circle")
        .data(points)
        .enter()
        .append("circle")
        .attr("cx", function (d) { return x(d[0]); })
        .attr("cy", function (d) { return y(d[1]); })
        .attr("r", r)
        .attr("fill", fill);
}

var jariPoints = jariAll.concat(jariDense);

drawDots(highDTop.concat(highDLeft, highDMiddle, highDRight, highDDense), "#4472c4", dotRadius);

// Outlined series: edge colour first, then the fill on top,
// so only the outer edge of a clump shows the outline.
drawDots(jariPoints, "#a5a5a5", dotRadius);
drawDots(jariPoints, "#70ad47", dotRadius - 1);
drawDots(jariTtc, "#ffc000", dotRadius);
drawDots(jariTtc, "#ff0000", dotRadius - 1);

drawDots(highDTtcEdge.concat(highDTtcCore, highDTtcFill), "#ed7d31", dotRadius);

// Axis labels only, the lines are already drawn by the grid.
// The format keeps a plain hyphen, as in the picture.
var xAxis = svg.append("g")
    .attr("transform", "translate(0," + plot.bottom + ")")
    .call(d3.axisBottom(x).tickValues(xTicks).tickSize(0).tickPadding(0)
        .tickFormat(function (d) { return String(d); }));
xAxis.select(".domain").remove();
xAxis.selectAll("text")
    .attr("y", 67)
    .attr("dy", 0)
    .attr("fill", "#595959")
    .style("font-family", "'Noto Sans', sans-serif")
    .style("font-size", "38px");

var yAxis = svg.append("g")
    .attr("transform", "translate(" + plot.right + ",0)")
    .call(d3.axisRight(y).tickValues(yTicks).tickSize(0).tickPadding(41));
yAxis.select(".domain").remove();
yAxis.selectAll("text")
    .attr("fill", "#595959")
    .style("font-family", "'Noto Sans', sans-serif")
    .style("font-size", "38px");

// Legend box with its two by two entries.
var legendFill = ["#70ad47", "#4472c4", "#ff0000", "#ed7d31"];
var legendEdge = ["#548235", "#2f5597", "#c00000", "#c55a11"];
var legendX = d3.scaleOrdinal().domain([0, 1]).range([133, 489]);
var legendY = d3.scaleOrdinal().domain([0, 1]).range([91, 163]);
var suffixOffset = [161, 204];

var legend = svg.append("g");
legend.append("rect")
    .attr("x", 75)
    .attr("y", 44.5)
    .attr("width", 745)
    .attr("height", 167)
    .attr("fill", "#fff")
    .attr("stroke", "#000")
    .attr("stroke-width", 2);

var entry = legend.selectAll(".entry")
    .data(legendNames)
    .enter()
    .append("g")
    .attr("class", "entry")
    .attr("transform", function (d, i) {
        return "translate(" + legendX(i % 2) + "," + legendY(Math.floor(i / 2)) + ")";
    });

entry.append("circle")
    .attr("r", 25.5)
    .attr("fill", function (d, i) { return legendFill[i]; })
    .attr("stroke", function (d, i) { return legendEdge[i]; })
    .attr("stroke-width", 2);

// The name and the second word are placed apart, with the wide gap of the picture.
entry.append("text")
    .attr("x", 45)
    .attr("y", 13)
    .attr("fill", "#000")
    .attr("textLength", function (d) { return d === "JARI" ? 79 : 122; })
    .attr("lengthAdjust", "spacingAndGlyphs")
    .style("font-size", "37px")
    .text(function (d) { return d; });

entry.filter(function (d, i) { return legendSuffix[i] !== ""; })
    .append("text")
    .attr("x", function () { return legendX(0) === 133 ? 0 : 0; })
    .attr("y", 13)
    .attr("fill", "#000")
    .attr("lengthAdjust", "spacingAndGlyphs")
    .style("font-size", "37px")
    .each(function (d) {
        var i = legendNames.indexOf(d) === 0 ? 0 : 1;
        var row = this.parentNode.getAttribute("transform").indexOf(",91)") > 0 ? 0 : 1;
        var word = legendSuffix[row * 2 + i];
        d3.select(this)
            .attr("x", suffixOffset[i])
            .attr("textLength", word === "data" ? 75 : 119)
            .text(word);
    });
</script>
</body>
</html>
